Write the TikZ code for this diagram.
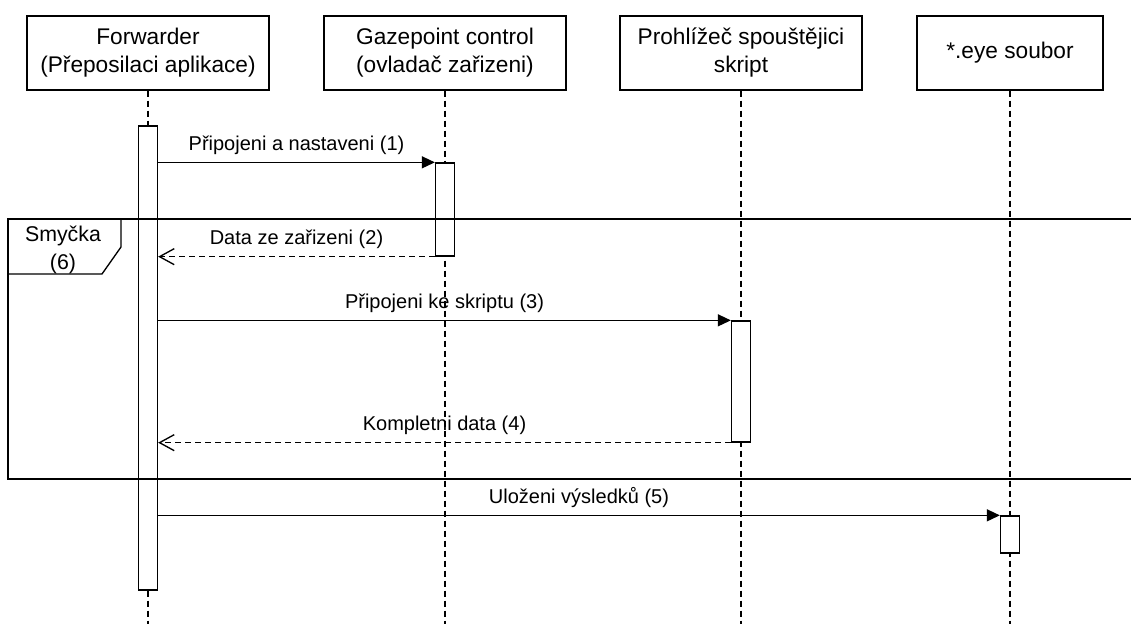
\documentclass[tikz,border=0pt]{standalone}
\usepackage{fontspec}
\setmainfont{Liberation Sans}
\usetikzlibrary{arrows.meta}

\tikzset{
  lifebox/.style={draw, line width=1pt, align=center, inner sep=0pt, minimum height=55.5pt, font=\fontsize{17}{21}\selectfont},
  lifeline/.style={line width=1pt, dash pattern=on 4.5pt off 3pt},
  actbar/.style={draw, fill=white, line width=1pt, inner sep=0pt, minimum width=14.25pt},
  callmsg/.style={line width=1pt, -{Triangle[length=9.75pt,width=9pt]}},
  replymsg/.style={line width=1pt, dash pattern=on 4.5pt off 3pt, -{Straight Barb[length=11pt,width=12pt]}},
  msglabel/.style={anchor=base, yshift=9pt, inner sep=0pt, font=\fontsize{15}{18}\selectfont}
}

\begin{document}
\begin{tikzpicture}[x=0.75pt,y=0.75pt,yscale=-1,xscale=1]
\useasboundingbox (0,0) rectangle (1131,624);

% Header boxes
\node[lifebox, minimum width=181.5pt] (fwd) at (148,53) {Forwarder\\(Přeposilaci aplikace)};
\node[lifebox, minimum width=181.5pt] (gaze) at (445,53) {Gazepoint control\\(ovladač zařizeni)};
\node[lifebox, minimum width=181.5pt] (brow) at (741,53) {Prohlížeč spouštějici\\skript};
\node[lifebox, minimum width=139.5pt] (eye) at (1010,53) {*.eye soubor};

% Lifelines
\coordinate (fwdend) at (148,630);
\coordinate (gazeend) at (445,630);
\coordinate (browend) at (741,630);
\coordinate (eyeend) at (1010,630);
\draw[lifeline] (fwd.south) -- (fwdend);
\draw[lifeline] (gaze.south) -- (gazeend);
\draw[lifeline] (brow.south) -- (browend);
\draw[lifeline] (eye.south) -- (eyeend);

% Activation bars
\node[actbar, minimum height=348pt] (fwdact) at (148,358) {};
\node[actbar, minimum height=69.75pt] (gazeact) at (445,209.5) {};
\node[actbar, minimum height=90.75pt] (browact) at (741,381.5) {};
\node[actbar, minimum height=27.75pt] (eyeact) at (1010,534.5) {};

% Loop frame
\draw[line width=1pt] (1140,219) -- (8,219) -- (8,479) -- (1140,479);
\draw[line width=1pt] (121,219) -- (121,247) -- (102,274) -- (8,274);
\node[align=center, inner sep=0pt, font=\fontsize{16}{21}\selectfont] (loop) at (63,250) {Smyčka\\(6)};

% Messages
\draw[callmsg] (fwdact.east |- gazeact.north) -- (gazeact.north west)
  node[msglabel, midway] (m1) {Připojeni a nastaveni (1)};
\draw[replymsg] (gazeact.south west) -- (fwdact.east |- gazeact.south west)
  node[msglabel, midway] (m2) {Data ze zařizeni (2)};
\draw[callmsg] (fwdact.east |- browact.north) -- (browact.north west)
  node[msglabel, midway] (m3) {Připojeni ke skriptu (3)};
\draw[replymsg] (browact.south west) -- (fwdact.east |- browact.south west)
  node[msglabel, midway] (m4) {Kompletni data (4)};
\draw[callmsg] (fwdact.east |- eyeact.north) -- (eyeact.north west)
  node[msglabel, midway] (m5) {Uloženi výsledků (5)};

\end{tikzpicture}
\end{document}
